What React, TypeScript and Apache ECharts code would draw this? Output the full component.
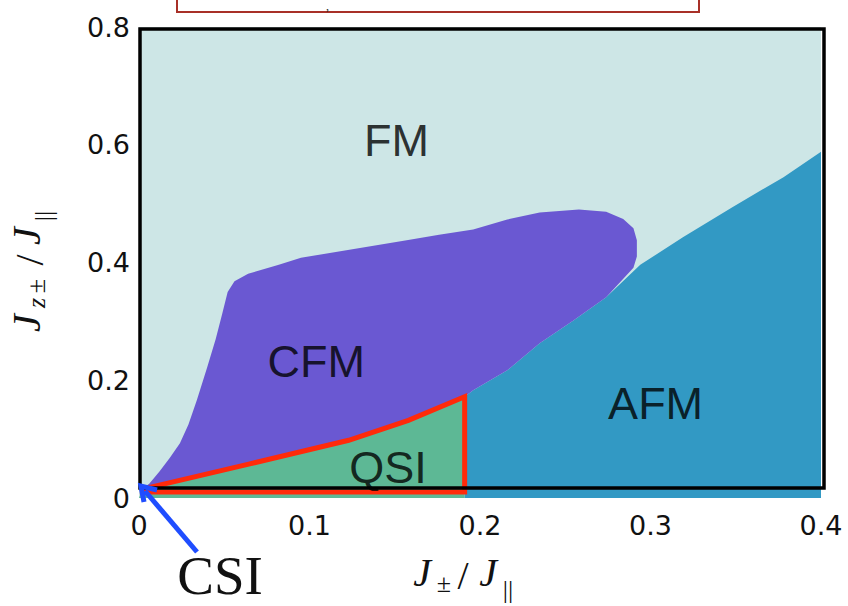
import React, { useEffect, useRef } from "react";
import * as echarts from "echarts";

// ---- data (x = J±/J||, y = Jz±/J||) ----
const xTicks = [0, 0.1, 0.2, 0.3, 0.4];
const yTicks = [0, 0.2, 0.4, 0.6, 0.8];

const fmRegion: number[][] = [
  [0, 0], [0.4, 0], [0.4, 0.8], [0, 0.8],
];

const afmRegion: number[][] = [
  [0.191, 0], [0.191, 0.172], [0.196, 0.183], [0.216, 0.217], [0.235, 0.263],
  [0.255, 0.302], [0.274, 0.341], [0.294, 0.396], [0.319, 0.443], [0.348, 0.494],
  [0.378, 0.545], [0.4, 0.588], [0.4, 0],
];

const cfmRegion: number[][] = [
  [0.0, 0.012], [0.006, 0.024], [0.012, 0.045], [0.018, 0.068], [0.024, 0.093],
  [0.029, 0.125], [0.034, 0.167], [0.040, 0.222], [0.045, 0.270], [0.049, 0.315],
  [0.052, 0.350], [0.056, 0.368], [0.064, 0.381], [0.082, 0.396], [0.095, 0.408],
  [0.157, 0.438], [0.176, 0.447], [0.196, 0.456], [0.216, 0.473], [0.235, 0.485],
  [0.258, 0.490], [0.274, 0.486], [0.284, 0.474], [0.290, 0.458], [0.292, 0.438],
  [0.292, 0.410], [0.290, 0.391], [0.274, 0.341], [0.255, 0.302], [0.235, 0.263],
  [0.216, 0.217], [0.196, 0.183], [0.191, 0.172], [0.158, 0.132], [0.123, 0.098],
  [0.065, 0.058], [0.002, 0.015],
];

const qsiRegion: number[][] = [
  [0, 0], [0.002, 0.015], [0.065, 0.058], [0.123, 0.098], [0.158, 0.132],
  [0.191, 0.172], [0.191, 0],
];

const qsiOutline: number[][] = [
  [0.002, 0.015], [0.065, 0.058], [0.123, 0.098], [0.158, 0.132],
  [0.191, 0.172], [0.191, 0.010], [0.002, 0.010],
];

const phaseNames = ["FM", "CFM", "QSI", "AFM"];
const phaseX = [0.151, 0.104, 0.146, 0.303];
const phaseY = [0.608, 0.231, 0.051, 0.161];

const COLORS = {
  fm: "#cde6e6",
  cfm: "#6a58d2",
  afm: "#3299c4",
  qsi: "#5db895",
  red: "#ff2a0a",
  blue: "#1f4dff",
};

function polySeries(name: string, pts: number[][], fill: string, z: number, stroke?: string, lw?: number) {
  return {
    type: "custom",
    name,
    coordinateSystem: "cartesian2d",
    silent: true,
    z,
    data: pts,
    renderItem: (params: any, api: any) => {
      if (params.dataIndex !== 0) return null;
      const points = pts.map((p) => api.coord(p));
      return {
        type: "polygon",
        shape: { points },
        style: stroke
          ? { fill: "none", stroke, lineWidth: lw, lineJoin: "miter" }
          : { fill },
      };
    },
  };
}

const serif = "'Liberation Serif', 'DejaVu Serif', serif";

function mathPiece(text: string, x: number, y: number, size: number, italic: boolean) {
  return {
    type: "text",
    x,
    y,
    style: {
      text,
      fontFamily: serif,
      fontSize: size,
      fontStyle: italic ? "italic" : "normal",
      fill: "#111",
      align: "center",
      verticalAlign: "middle",
    },
  };
}

export default function App() {
  const ref = useRef<HTMLDivElement>(null);
  useEffect(() => {
    if (!ref.current) return;
    const chart = echarts.init(ref.current, undefined, { renderer: "svg" });
    const option: any = {
      animation: false,
      backgroundColor: "#ffffff",
      grid: { left: 139, right: 27, top: 27, bottom: 108, containLabel: false },
      xAxis: {
        type: "value",
        min: xTicks[0],
        max: xTicks[xTicks.length - 1],
        interval: 0.1,
        axisLine: { show: false },
        axisTick: { show: false },
        splitLine: { show: false },
        axisLabel: {
          margin: 14,
          fontSize: 27,
          fontFamily: "'DejaVu Sans', sans-serif",
          color: "#111",
        },
      },
      yAxis: {
        type: "value",
        min: yTicks[0],
        max: yTicks[yTicks.length - 1],
        interval: 0.2,
        axisLine: { show: false },
        axisTick: { show: false },
        splitLine: { show: false },
        axisLabel: {
          margin: 9,
          fontSize: 27,
          fontFamily: "'DejaVu Sans', sans-serif",
          color: "#111",
        },
      },
      series: [
        polySeries("FM", fmRegion, COLORS.fm, 1),
        polySeries("AFM", afmRegion, COLORS.afm, 2),
        polySeries("QSI", qsiRegion, COLORS.qsi, 3),
        polySeries("CFM", cfmRegion, COLORS.cfm, 4),
        polySeries("QSI outline", qsiOutline, "none", 6, COLORS.red, 5),
        {
          type: "scatter",
          z: 7,
          silent: true,
          symbolSize: 1,
          itemStyle: { color: "rgba(0,0,0,0)" },
          data: phaseNames.map((n, i) => ({ name: n, value: [phaseX[i], phaseY[i]] })),
          label: {
            show: true,
            position: "inside",
            formatter: "{b}",
            fontSize: 45,
            fontFamily: "'Liberation Sans', Arial, sans-serif",
            color: "#000",
          },
        },
      ],
      graphic: [
        // black frame
        {
          type: "rect",
          z: 100,
          shape: { x: 140, y: 29, width: 684, height: 459 },
          style: { fill: "none", stroke: "#000", lineWidth: 3.5 },
        },
        // red box at the top (cut off)
        {
          type: "rect",
          z: 100,
          shape: { x: 177, y: -10, width: 522, height: 22 },
          style: { fill: "#fff", stroke: "#a83028", lineWidth: 2 },
        },
        {
          type: "text",
          z: 101,
          x: 326,
          y: 1,
          style: {
            text: ",",
            fontFamily: serif,
            fontSize: 12,
            lineHeight: 10,
            fill: "#222",
            verticalAlign: "top",
          },
        },
        // blue arrow to CSI
        {
          type: "line",
          z: 102,
          shape: { x1: 197, y1: 552, x2: 145, y2: 491 },
          style: { stroke: COLORS.blue, lineWidth: 5 },
        },
        {
          type: "polyline",
          z: 102,
          shape: { points: [[157, 490], [141, 486], [144, 502]] },
          style: { stroke: COLORS.blue, lineWidth: 5, fill: "none", lineJoin: "miter" },
        },
        {
          type: "text",
          z: 102,
          x: 220,
          y: 575,
          style: {
            text: "CSI",
            fontFamily: serif,
            fontSize: 55,
            lineHeight: 48,
            fill: "#111",
            align: "center",
            verticalAlign: "middle",
          },
        },
        // x-axis name  J± / J||
        {
          type: "group",
          children: [
            mathPiece("J", 422, 572, 40, true),
            mathPiece("±", 444, 583, 26, false),
            mathPiece("/", 463, 575, 40, false),
            mathPiece("J", 488, 572, 40, true),
            mathPiece("||", 508, 589, 26, false),
          ],
        },
        // y-axis name  Jz± / J||
        {
          type: "group",
          x: 26,
          y: 340,
          rotation: Math.PI / 2,
          children: [
            mathPiece("J", 17, 0, 40, true),
            mathPiece("z", 37, 10, 26, true),
            mathPiece("±", 54, 10, 26, false),
            mathPiece("/", 80, 3, 40, false),
            mathPiece("J", 104, 0, 40, true),
            mathPiece("||", 124, 17, 26, false),
          ],
        },
      ],
    };
    chart.setOption(option);
    return () => chart.dispose();
  }, []);
  return (
    <div
      ref={ref}
      style={{ position: "fixed", left: 0, top: 0, width: 848, height: 606, background: "#fff" }}
    />
  );
}
